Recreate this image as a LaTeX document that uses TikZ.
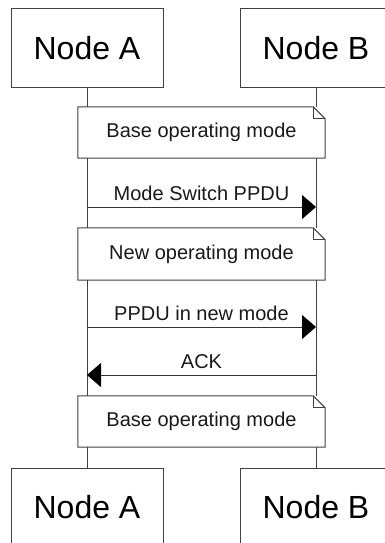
\documentclass[tikz,border=0pt]{standalone}
\usepackage{fontspec}
\setmainfont{Liberation Sans}
\usetikzlibrary{positioning,arrows.meta}

\begin{document}
\begin{tikzpicture}[x=1pt,y=-1pt,
						>={Triangle[length=14pt,width=24pt]},
						actor/.style={
							rectangle,
							draw=black!75, line width=1pt,
							fill=white,
							minimum width=152pt,
							minimum height=78pt,
							inner sep=0pt,
							text=black,
							font=\fontsize{32}{38}\selectfont
						},
						notebox/.style={
							rectangle,
							fill=white,
							minimum width=247pt,
							minimum height=51pt,
							inner sep=0pt,
							text=black!90,
							font=\fontsize{20}{24}\selectfont
						},
						noteline/.style={draw=black!75, line width=1pt},
						lifeline/.style={draw=black!75, line width=1pt},
						msg/.style={draw=black!80, line width=1pt, -{Triangle[length=14pt,width=24pt,fill=black,color=black]}},
						msglabel/.style={inner sep=0pt, text=black!90, font=\fontsize{20}{24}\selectfont}]

						\clip (0,0) rectangle (385,543);
						\useasboundingbox (0,0) rectangle (385,543);

						% Heads and feet of the two lifelines
						\node [actor] (topA) at (87,48) {Node A};
						\node [actor] (topB) at (316,48) {Node B};
						\node [actor] (botA) at (87,507) {Node A};
						\node [actor] (botB) at (316,507) {Node B};

						% Lifelines
						\draw [lifeline] (topA) -- (botA);
						\draw [lifeline] (topB) -- (botB);

						% Operating mode notes
						\node [notebox] (base1) at (201.5,132.5) {Base operating mode};
						\node [notebox, minimum height=52pt] (newmode) at (201.5,254) {New operating mode};
						\node [notebox] (base2) at (201.5,421.5) {Base operating mode};

						%% Outline with folded corner for every note
						\foreach \n in {base1,newmode,base2} {
							\draw [noteline] (\n.north west) -- ([xshift=-12pt]\n.north east)
								-- ([yshift=-12pt]\n.north east) -- (\n.south east)
								-- (\n.south west) -- cycle;
							\draw [noteline] ([xshift=-12pt]\n.north east)
								|- ([yshift=-12pt]\n.north east);
						}

						%% Message end points on the lifelines
						\coordinate (switchA) at (topA |- 0,207);
						\coordinate (switchB) at (topB |- 0,207);
						\coordinate (ppduA) at (topA |- 0,327);
						\coordinate (ppduB) at (topB |- 0,327);
						\coordinate (ackA) at (topA |- 0,375);
						\coordinate (ackB) at (topB |- 0,375);

						%% Messages
						\draw [msg] (switchA) -- node [msglabel, above=6pt] {Mode Switch PPDU} (switchB);
						\draw [msg] (ppduA) -- node [msglabel, above=6pt] {PPDU in new mode} (ppduB);
						\draw [msg] (ackB) -- node [msglabel, above=6pt] {ACK} (ackA);
					\end{tikzpicture}
\end{document}
